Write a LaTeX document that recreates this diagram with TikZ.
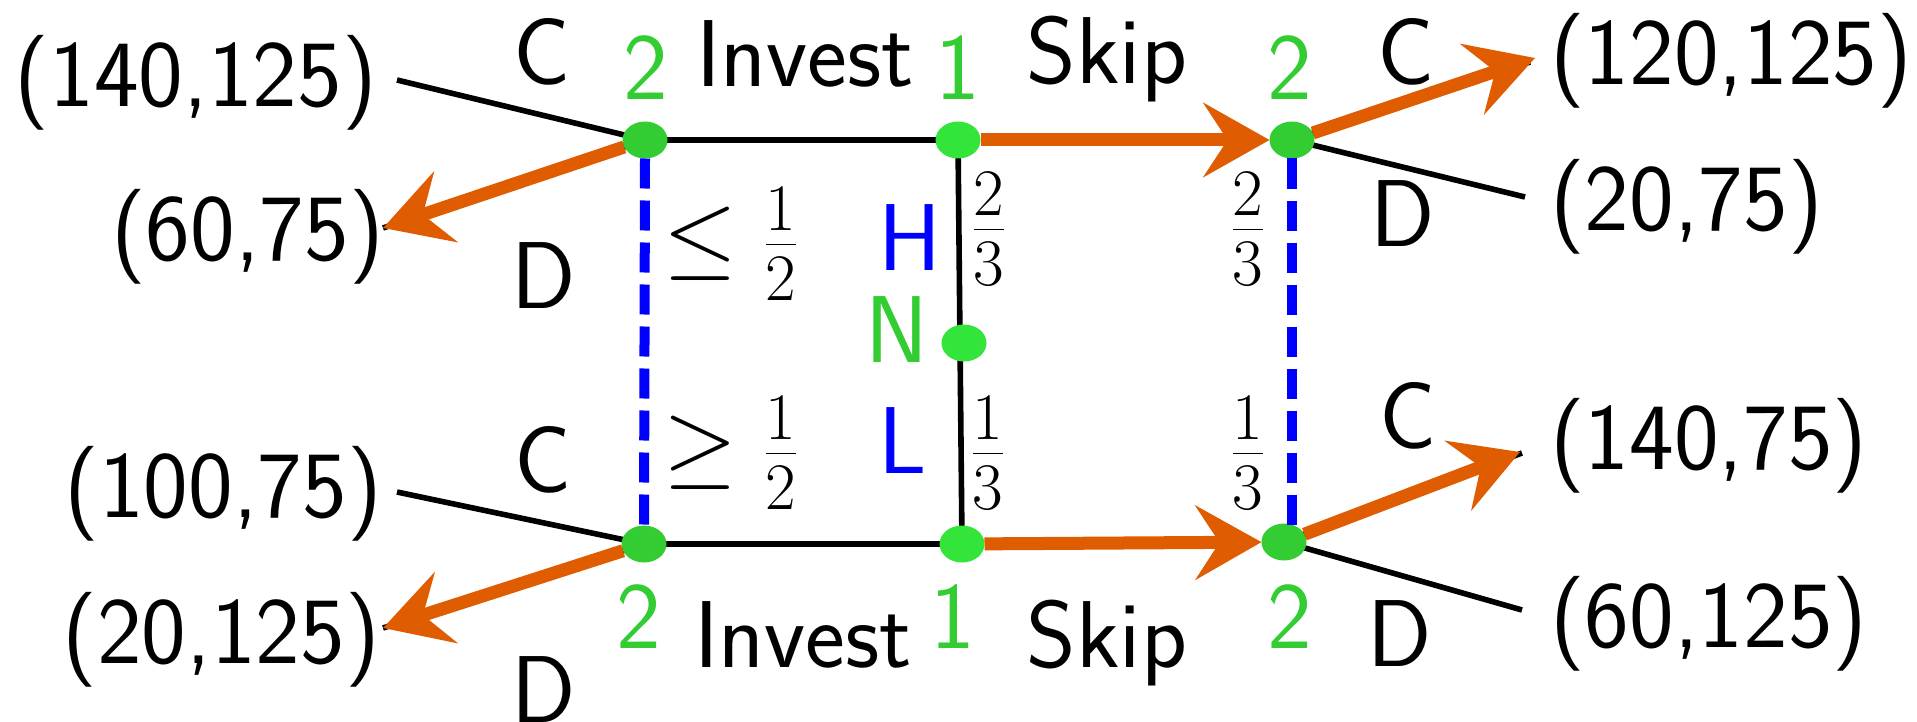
\RequirePackage{fix-cm}
\documentclass[tikz,border=0pt]{standalone}
\usepackage{fontspec}
\usetikzlibrary{shapes.geometric,arrows.meta}
\definecolor{gdark}{RGB}{51,204,51}
\definecolor{glight}{RGB}{51,228,58}
\definecolor{orng}{RGB}{224,92,0}
\definecolor{blu}{RGB}{0,0,255}
\pgfdeclarelayer{bg}
\pgfsetlayers{bg,main}
\begin{document}
\begin{tikzpicture}[x=0.5pt,y=-0.5pt,
  font=\fontsize{47.5}{56}\selectfont\sffamily,
  pnode/.style={ellipse,fill=#1,draw=none,minimum width=22.5pt,minimum height=18.5pt,inner sep=0pt,outer sep=0pt},
  lab/.style={inner sep=0pt,outer sep=0pt},
  glab/.style={lab,text=gdark},
  blab/.style={lab,text=blu},
  edge/.style={line width=2.8pt,black},
  choice/.style={line width=6.5pt,orng,-{Stealth[length=33pt,width=37pt,inset=12pt]}},
  info/.style={line width=5pt,blu,dash pattern=on 15pt off 6pt},
]
\begin{pgfonlayer}{bg}
\path[use as bounding box,fill=white] (0,0) rectangle (1917,713);
\end{pgfonlayer}

% decision nodes
\node[pnode=gdark]  (TL) at (645,140) {};
\node[pnode=glight] (TM) at (958,140) {};
\node[pnode=gdark]  (TR) at (1292,140) {};
\node[pnode=glight] (N)  at (964,343) {};
\node[pnode=gdark]  (BL) at (644,544) {};
\node[pnode=glight] (BM) at (962,544) {};
\node[pnode=gdark]  (BR) at (1284,542) {};

% free ends
\coordinate (eTLc) at (397,80);
\coordinate (eTLd) at (383,228);
\coordinate (eBLc) at (397,492);
\coordinate (eBLd) at (383,628);
\coordinate (eTRc) at (1535,58);
\coordinate (eTRk) at (1530,62);
\coordinate (eTRd) at (1525,197);
\coordinate (eBRc) at (1520,452);
\coordinate (eBRk) at (1522,453);
\coordinate (eBRd) at (1522,610);
\coordinate (infoR) at (1292,526);

% black edges
\begin{pgfonlayer}{bg}
\draw[edge] (TL.center) -- (TM.center);
\draw[edge] (BL.center) -- (BM.center);
\draw[edge] (TM.center) -- (BM.center);
\draw[edge] (TL.center) -- (eTLc);
\draw[edge] (TL.center) -- (eTLd);
\draw[edge] (BL.center) -- (eBLc);
\draw[edge] (BL.center) -- (eBLd);
\draw[edge] (TR.center) -- (eTRk);
\draw[edge] (TR.center) -- (eTRd);
\draw[edge] (BR.center) -- (eBRk);
\draw[edge] (BR.center) -- (eBRd);
\end{pgfonlayer}

% information sets
\draw[info] (TL.south) -- (BL.north);
\draw[info] (TR.south) -- (infoR);

% chosen actions
\draw[choice] (TM) -- (TR);
\draw[choice] (BM) -- (BR);
\draw[choice] (TL) -- (eTLd);
\draw[choice] (BL) -- (eBLd);
\draw[choice] (TR) -- (eTRc);
\draw[choice] (BR) -- (eBRc);

% payoffs
\node[lab,anchor=base east] (o1) at (377,107) {(140,125)};
\node[lab,anchor=base east] (o2) at (384,260) {(60,75)};
\node[lab,anchor=base east] (o3) at (382,517) {(100,75)};
\node[lab,anchor=base east] (o4) at (380,663) {(20,125)};
\node[lab,anchor=base west] (o5) at (1550,85) {(120,125)};
\node[lab,anchor=base west] (o6) at (1550,230) {(20,75)};
\node[lab,anchor=base west] (o7) at (1550,469) {(140,75)};
\node[lab,anchor=base west] (o8) at (1550,647) {(60,125)};

% labels
\node[lab] (cTL) at (542,52) {C};
\node[glab,anchor=base] (pTL) at (646,100) {2};
\node[lab,anchor=base] (invT) at (805,87) {Invest};
\node[glab,anchor=base] (pTM) at (958,100) {1};
\node[lab,anchor=base] (skT) at (1107,84) {Skip};
\node[glab,anchor=base] (pTR) at (1290,100) {2};
\node[lab] (cTR) at (1406,52) {C};
\node[lab] (dTL) at (544,276) {D};
\node[lab] (le) at (731,244) {$\leq \frac{1}{2}$};
\node[blab] (Hl) at (910,238) {H};
\node[lab] (f23a) at (989,229) {$\frac{2}{3}$};
\node[lab] (f23b) at (1248,229) {$\frac{2}{3}$};
\node[lab] (dTR) at (1403,214) {D};
\node[glab] (Nl) at (897,330) {N};
\node[lab] (cBR) at (1408,416) {C};
\node[lab] (cBL) at (543,460) {C};
\node[lab] (ge) at (731,453) {$\geq \frac{1}{2}$};
\node[blab] (Ll) at (903,441) {L};
\node[lab] (f13a) at (988,453) {$\frac{1}{3}$};
\node[lab] (f13b) at (1248,453) {$\frac{1}{3}$};
\node[glab,anchor=base] (pBL) at (639,648) {2};
\node[lab,anchor=base] (invB) at (803,667) {Invest};
\node[glab,anchor=base] (pBM) at (953,648) {1};
\node[lab,anchor=base] (skB) at (1107,667) {Skip};
\node[glab,anchor=base] (pBR) at (1290,648) {2};
\node[lab,anchor=base] (dBR) at (1400,666) {D};
\node[lab,anchor=base] (dBL) at (544,722) {D};
\end{tikzpicture}
\end{document}
